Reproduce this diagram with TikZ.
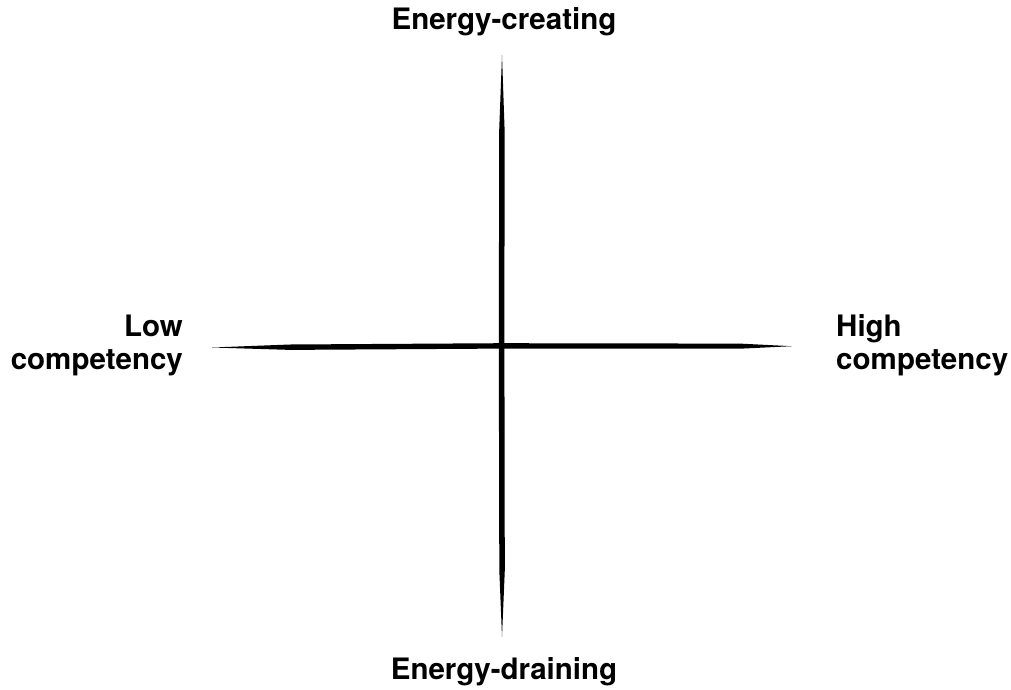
\documentclass[tikz,border=0pt]{standalone}
\usepackage{fontspec}
\setmainfont{TeX Gyre Heros}
\begin{document}
\begin{tikzpicture}[x=1pt,y=-1pt,
  lbl/.style={font=\bfseries\fontsize{29.5}{33}\selectfont, inner sep=0pt},
  stroke/.style={fill=black}]
\useasboundingbox (0,0) rectangle (1011,690);
% horizontal axis (tapered stroke)
\fill[stroke] (212,347.5) -- (290,344.5) -- (501,343.2) -- (740,343.6) -- (792,346.2)
  -- (740,348.7) -- (501,348.6) -- (290,349.9) -- cycle;
% vertical axis (tapered stroke)
\fill[stroke] (502,55) -- (499.2,130) -- (498.8,345) -- (499.3,570) -- (502,637)
  -- (504.8,570) -- (504.4,345) -- (504.6,130) -- cycle;
\node[lbl] (top) at (504,22) {Energy-creating};
\node[lbl] (bottom) at (504,672) {Energy-draining};
\node[lbl, anchor=east, align=right] (left) at (183,345) {Low\\competency};
\node[lbl, anchor=west, align=left] (right) at (836,345) {High\\competency};
\end{tikzpicture}
\end{document}
